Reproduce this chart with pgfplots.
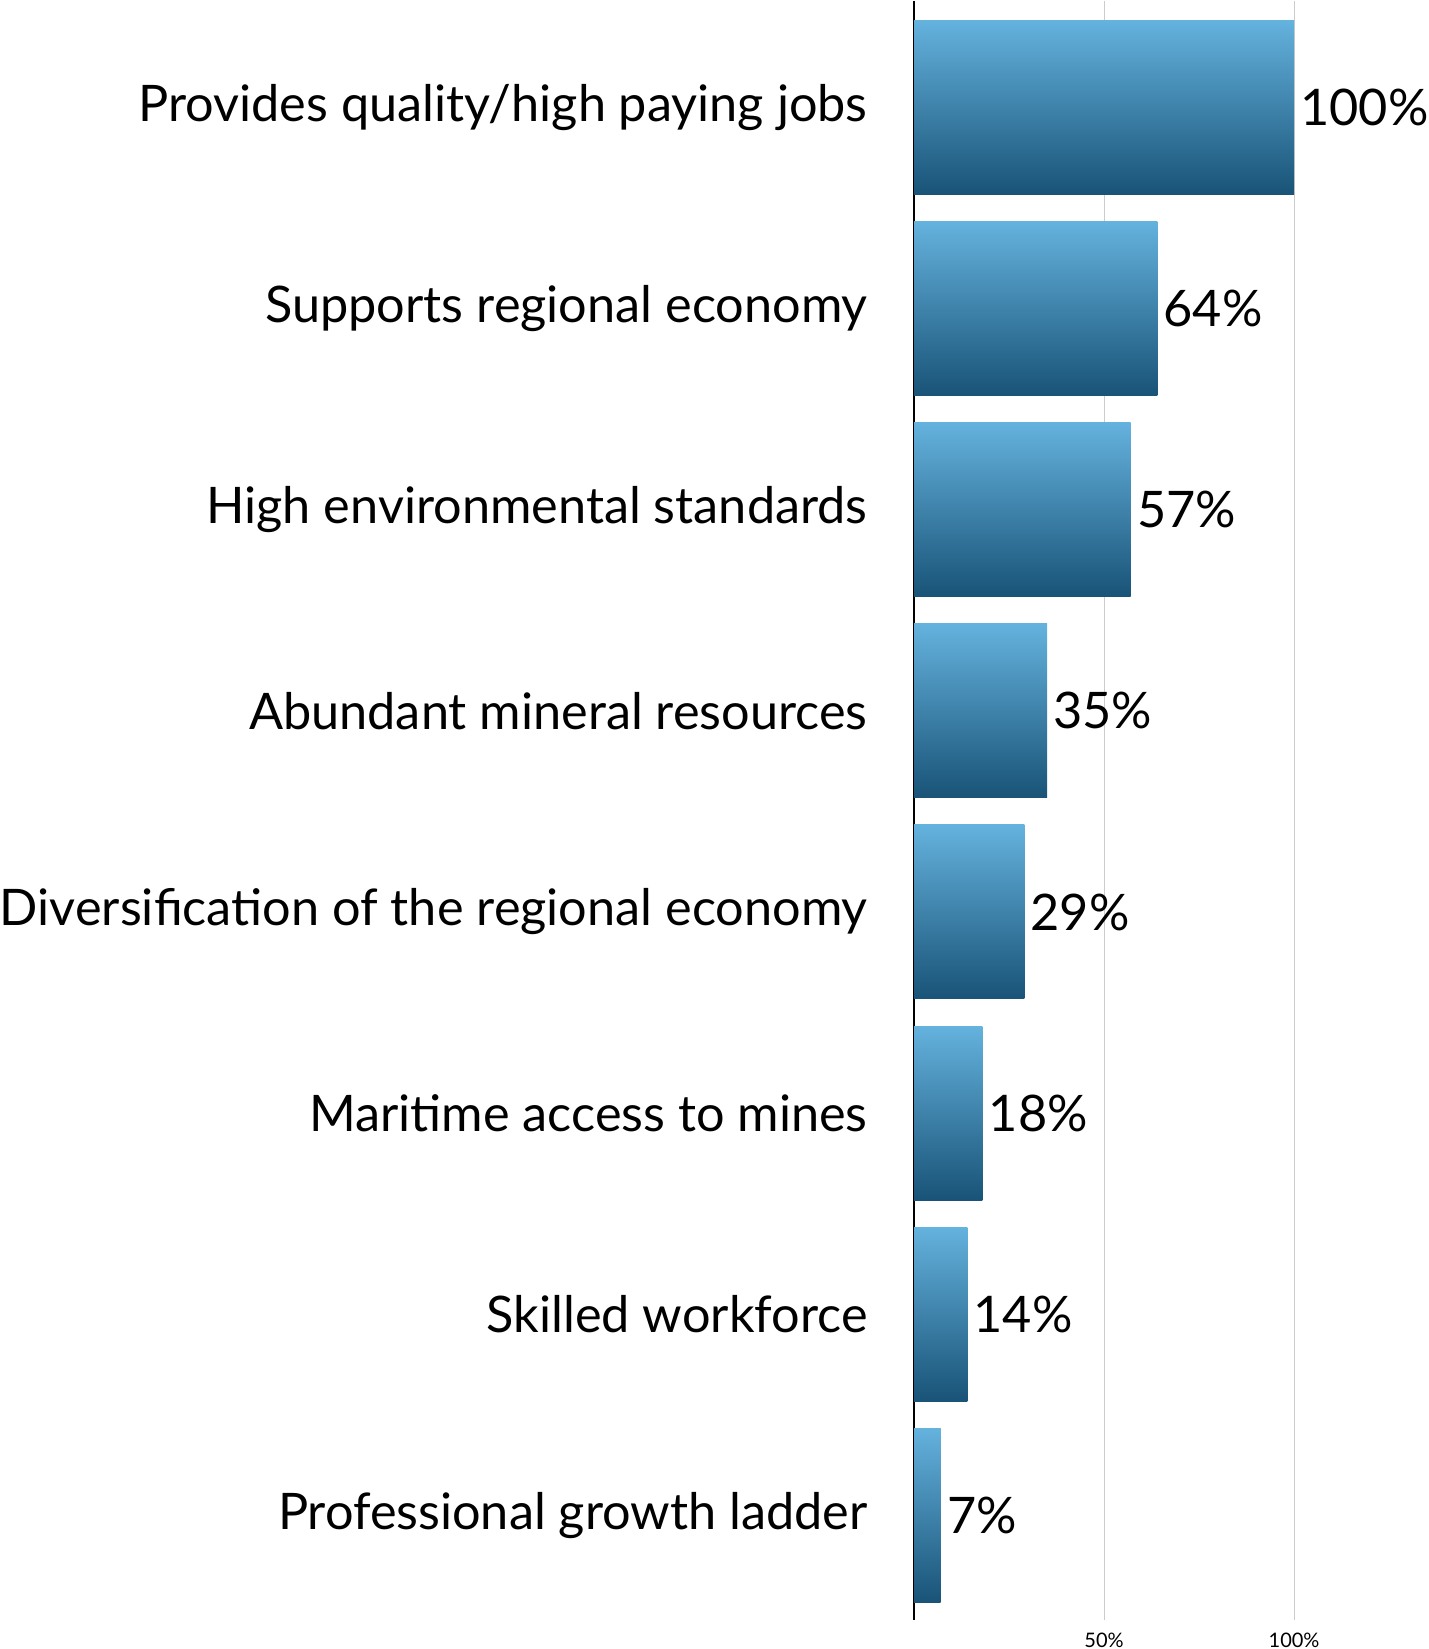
\documentclass[border=0pt]{standalone}
\usepackage{pgfplots}
\pgfplotsset{compat=1.18}
\usepackage{fontspec}
\setmainfont{Lato}
\definecolor{bartop}{HTML}{64B2DE}
\definecolor{barbot}{HTML}{195377}
\definecolor{gridc}{HTML}{CCCCCC}
\begin{document}
\begin{tikzpicture}
\begin{axis}[
  scale only axis,
  width=190pt, height=809.5pt,
  xmin=0, xmax=100,
  ymin=-0.53, ymax=7.52,
  y dir=reverse,
  axis x line*=bottom,
  axis y line*=left,
  x axis line style={draw=none},
  y axis line style={draw=black, line width=0.85pt},
  xtick={50,100},
  xticklabels={50\%,100\%},
  xmajorgrids,
  major grid style={draw=gridc, line width=0.5pt},
  xticklabel style={font=\fontsize{10}{12}\selectfont, inner sep=0.5pt, yshift=-6pt},
  ytick={0,1,2,3,4,5,6,7},
  yticklabels={Provides quality/high paying jobs, Supports regional economy, High environmental standards, Abundant mineral resources, Diversification of the regional economy, Maritime access to mines, Skilled workforce, Professional growth ladder},
  yticklabel style={font=\fontsize{25.2}{30}\selectfont, inner sep=0pt, xshift=-23pt},
  major tick length=0pt,
  tick style={draw=none},
  clip=false,
  xbar,
  bar width=0.865,
  bar shift=0pt,
  /pgf/number format/assume math mode=true,
  nodes near coords={\pgfmathprintnumber{\pgfplotspointmeta}\%},
  nodes near coords style={font=\fontsize{25.2}{30}\selectfont, anchor=west, inner sep=0pt, xshift=3pt, text=black},
  every axis plot/.append style={draw=none, top color=bartop, bottom color=barbot},
]
\addplot coordinates {(100,0)};
\addplot coordinates {(64,1)};
\addplot coordinates {(57,2)};
\addplot coordinates {(35,3)};
\addplot coordinates {(29,4)};
\addplot coordinates {(18,5)};
\addplot coordinates {(14,6)};
\addplot coordinates {(7,7)};
\end{axis}
\end{tikzpicture}
\end{document}
